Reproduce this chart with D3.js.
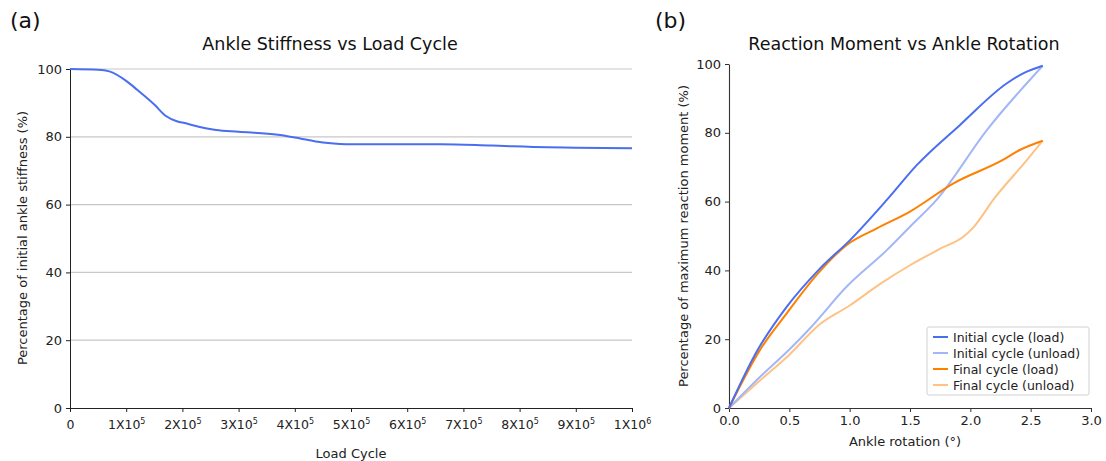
<!DOCTYPE html>
<html>
<head>
<meta charset="utf-8">
<script src="https://cdn.jsdelivr.net/npm/d3@7"></script>
<style>
  body { margin: 0; background: #fff; }
  svg { font-family: "DejaVu Sans", sans-serif; }
</style>
</head>
<body>
<div id="chart"></div>
<script>
// ---- data: panel (a) ----
var loadCycles = [0, 50000, 70000, 100000, 120000, 150000, 170000, 190000, 200000, 260000, 300000,
                  370000, 400000, 450000, 480000, 500000, 600000, 660000, 750000, 850000, 900000, 1000000];
var stiffness = [100, 99.8, 99.3, 96.5, 93.8, 89.5, 86.2, 84.6, 84.2, 82.0, 81.5,
                 80.6, 79.8, 78.3, 77.9, 77.8, 77.8, 77.8, 77.4, 76.9, 76.8, 76.6];
var cycleTicks = [0, 1e5, 2e5, 3e5, 4e5, 5e5, 6e5, 7e5, 8e5, 9e5, 1e6];
var cycleTickLabels = ["0", "1X10|5", "2X10|5", "3X10|5", "4X10|5", "5X10|5", "6X10|5", "7X10|5", "8X10|5", "9X10|5", "1X10|6"];

// ---- data: panel (b) ----
var initLoadX = [0, 0.23, 0.478, 0.755, 1.003, 1.308, 1.556, 1.915, 2.303, 2.45, 2.6];
var initLoadY = [0, 16.4, 29.4, 40.6, 48.8, 60.5, 70.6, 82.3, 94.4, 97.5, 99.5];
var initUnloadX = [0, 0.25, 0.5, 0.672, 0.976, 1.308, 1.5, 1.72, 2.137, 2.6];
var initUnloadY = [0, 8.8, 17.0, 23.2, 35.3, 45.9, 52.7, 60.5, 80.8, 99.5];
var finalLoadX = [0, 0.257, 0.478, 0.727, 0.976, 1.225, 1.5, 1.86, 2.27, 2.41, 2.6];
var finalLoadY = [0, 16.9, 27.5, 38.7, 47.4, 52.2, 57.1, 65.3, 72.1, 75.0, 77.7];
var finalUnloadX = [0, 0.25, 0.5, 0.75, 1.0, 1.25, 1.5, 1.75, 1.95, 2.02, 2.2, 2.47, 2.6];
var finalUnloadY = [0, 7.8, 15.5, 24.3, 29.8, 36.0, 41.5, 46.3, 50.0, 52.3, 61.0, 72.1, 77.7];
var seriesNames = ["Initial cycle (load)", "Initial cycle (unload)", "Final cycle (load)", "Final cycle (unload)"];
var seriesColors = ["#4a6ef0", "#a3b7f8", "#ff8000", "#ffc285"];
var rotTicks = [0, 0.5, 1.0, 1.5, 2.0, 2.5, 3.0];
var pctTicks = [0, 20, 40, 60, 80, 100];

var svg = d3.select("#chart").append("svg")
    .attr("width", 1106)
    .attr("height", 461);

// ================= panel (a) =================
var xa = d3.scaleLinear().domain([0, 1e6]).range([70, 632]);
var ya = d3.scaleLinear().domain([0, 100]).range([408, 69]);

svg.append("text").attr("x", 10).attr("y", 28)
    .attr("font-size", 22).attr("fill", "#111").text("(a)");
svg.append("text").attr("x", 330).attr("y", 50)
    .attr("text-anchor", "middle").attr("font-size", 17.5).attr("fill", "#111")
    .text("Ankle Stiffness vs Load Cycle");

// gridlines
svg.append("g").selectAll("line")
    .data(pctTicks.filter(d => d > 0))
    .enter().append("line")
    .attr("x1", 70).attr("x2", 632)
    .attr("y1", d => ya(d)).attr("y2", d => ya(d))
    .attr("stroke", "#c8c8c8").attr("stroke-width", 1.2);

var yAxisA = svg.append("g")
    .attr("transform", "translate(70,0)")
    .call(d3.axisLeft(ya).tickValues(pctTicks).tickSize(4).tickPadding(4));
yAxisA.select(".domain").attr("stroke", "#222");
yAxisA.selectAll(".tick line").attr("stroke", "#222");
yAxisA.selectAll("text").attr("font-size", 13).attr("fill", "#222")
    .attr("font-family", "DejaVu Sans");

var xAxisA = svg.append("g")
    .attr("transform", "translate(0,408)")
    .call(d3.axisBottom(xa).tickValues(cycleTicks).tickSize(4).tickPadding(4).tickFormat(""));
xAxisA.select(".domain").attr("stroke", "#222");
xAxisA.selectAll(".tick line").attr("stroke", "#222");
xAxisA.selectAll(".tick").each(function (d, i) {
    var parts = cycleTickLabels[i].split("|");
    var t = d3.select(this).append("text")
        .attr("y", 21).attr("text-anchor", "middle")
        .attr("font-size", 12.5).attr("fill", "#222")
        .attr("font-family", "DejaVu Sans");
    t.append("tspan").text(parts[0]);
    if (parts.length > 1) {
        t.append("tspan").attr("dy", -5).attr("font-size", 8).text(parts[1]);
    }
});

svg.append("text")
    .attr("transform", "translate(27,238) rotate(-90)")
    .attr("text-anchor", "middle").attr("font-size", 13).attr("fill", "#222")
    .text("Percentage of initial ankle stiffness (%)");
svg.append("text").attr("x", 351).attr("y", 458)
    .attr("text-anchor", "middle").attr("font-size", 13).attr("fill", "#222")
    .text("Load Cycle");

var lineA = d3.line()
    .x((d, i) => xa(loadCycles[i]))
    .y(d => ya(d))
    .curve(d3.curveMonotoneX);
svg.append("path")
    .datum(stiffness)
    .attr("d", lineA)
    .attr("fill", "none")
    .attr("stroke", "#4a6ef0")
    .attr("stroke-width", 2);

// ================= panel (b) =================
var xb = d3.scaleLinear().domain([0, 3]).range([729, 1091]);
var yb = d3.scaleLinear().domain([0, 100]).range([408, 64]);

svg.append("text").attr("x", 655).attr("y", 28)
    .attr("font-size", 22).attr("fill", "#111").text("(b)");
svg.append("text").attr("x", 904).attr("y", 50)
    .attr("text-anchor", "middle").attr("font-size", 17.5).attr("fill", "#111")
    .text("Reaction Moment vs Ankle Rotation");

var yAxisB = svg.append("g")
    .attr("transform", "translate(729,0)")
    .call(d3.axisLeft(yb).tickValues(pctTicks).tickSize(4).tickPadding(4).tickSizeOuter(0));
var xAxisB = svg.append("g")
    .attr("transform", "translate(0,408)")
    .call(d3.axisBottom(xb).tickValues(rotTicks).tickSize(4).tickPadding(4).tickSizeOuter(0)
        .tickFormat(d3.format(".1f")));
[yAxisB, xAxisB].forEach(function (ax) {
    ax.select(".domain").attr("stroke", "#333").attr("stroke-width", 1.1);
    ax.selectAll(".tick line").attr("stroke", "#333");
    ax.selectAll("text").attr("font-size", 13).attr("fill", "#222")
        .attr("font-family", "DejaVu Sans");
});

svg.append("text")
    .attr("transform", "translate(688,236) rotate(-90)")
    .attr("text-anchor", "middle").attr("font-size", 13).attr("fill", "#222")
    .text("Percentage of maximum reaction moment (%)");
svg.append("text").attr("x", 905).attr("y", 446)
    .attr("text-anchor", "middle").attr("font-size", 13).attr("fill", "#222")
    .text("Ankle rotation (°)");

var seriesB = [
    [initLoadX, initLoadY],
    [initUnloadX, initUnloadY],
    [finalLoadX, finalLoadY],
    [finalUnloadX, finalUnloadY]
];
var lineB = d3.line()
    .x(d => xb(d[0]))
    .y(d => yb(d[1]))
    .curve(d3.curveMonotoneX);
// draw light lines first, then the load lines on top
[3, 1, 2, 0].forEach(function (k) {
    var pts = seriesB[k][0].map((x, i) => [x, seriesB[k][1][i]]);
    svg.append("path")
        .datum(pts)
        .attr("d", lineB)
        .attr("fill", "none")
        .attr("stroke", seriesColors[k])
        .attr("stroke-width", 2);
});

// legend
var legend = svg.append("g").attr("transform", "translate(927,327)");
legend.append("rect")
    .attr("width", 162).attr("height", 68).attr("rx", 2)
    .attr("fill", "#fff").attr("fill-opacity", 0.85)
    .attr("stroke", "#d0d0d0");
var items = legend.selectAll(".item")
    .data(seriesNames)
    .enter().append("g")
    .attr("transform", (d, i) => `translate(0,${10 + i * 16})`);
items.append("line")
    .attr("x1", 6).attr("x2", 21)
    .attr("stroke", (d, i) => seriesColors[i]).attr("stroke-width", 2);
items.append("text")
    .attr("x", 26).attr("y", 4.5)
    .attr("font-size", 12.5).attr("fill", "#222")
    .text(d => d);
</script>
</body>
</html>
